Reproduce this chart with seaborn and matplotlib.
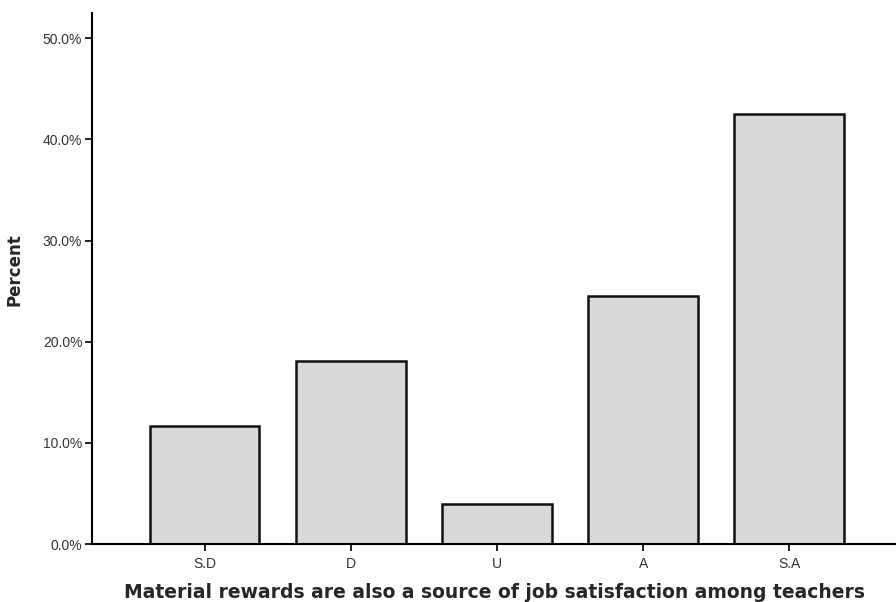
import matplotlib
matplotlib.use("Agg")
import matplotlib.pyplot as plt
import seaborn as sns
import pandas as pd
from matplotlib.ticker import FuncFormatter, MultipleLocator

categories = ["S.D", "D", "U", "A", "S.A"]
percent = [11.7, 18.1, 4.0, 24.5, 42.5]

df = pd.DataFrame({"cat": categories, "pct": percent})

sns.set_style("white")
plt.rcParams["font.family"] = ["Liberation Sans", "DejaVu Sans"]

fig = plt.figure(figsize=(8.96, 6.02), dpi=100)
ax = fig.add_axes([92/896, 1 - 544/602, 1 - 92/896, (544 - 13)/602])

sns.barplot(data=df, x="cat", y="pct", ax=ax, color="#d9d9d9",
            edgecolor="#111111", linewidth=1.8, width=0.75, saturation=1)

ax.set_xlim(-0.77, 4.73)
ax.set_ylim(0, 52.5)
ax.yaxis.set_major_locator(MultipleLocator(10))
ax.yaxis.set_major_formatter(FuncFormatter(lambda v, p: f"{v:.1f}%"))

for s in ["top", "right"]:
    ax.spines[s].set_visible(False)
for s in ["left", "bottom"]:
    ax.spines[s].set_color("black")
    ax.spines[s].set_linewidth(1.5)

ax.tick_params(axis="both", which="major", direction="out", length=5, width=1.2,
               color="black", labelsize=10, labelcolor="#333333", left=True, bottom=True)
ax.tick_params(axis="y", pad=2)
ax.tick_params(axis="x", pad=4)

ax.set_ylabel("Percent", fontsize=12, fontweight="bold", family="DejaVu Sans")
ax.yaxis.label.set_va("center")
ax.yaxis.label.set_ha("center")
ax.yaxis.set_label_coords(-0.0958, 0.516)

ax.set_xlabel("Material rewards are also a source of job satisfaction among teachers",
              fontsize=13.5, fontweight="bold", family="DejaVu Sans")
ax.xaxis.label.set_va("center")
ax.xaxis.set_label_coords(0.5, -0.0904)

fig.savefig("out.png", dpi=100)
